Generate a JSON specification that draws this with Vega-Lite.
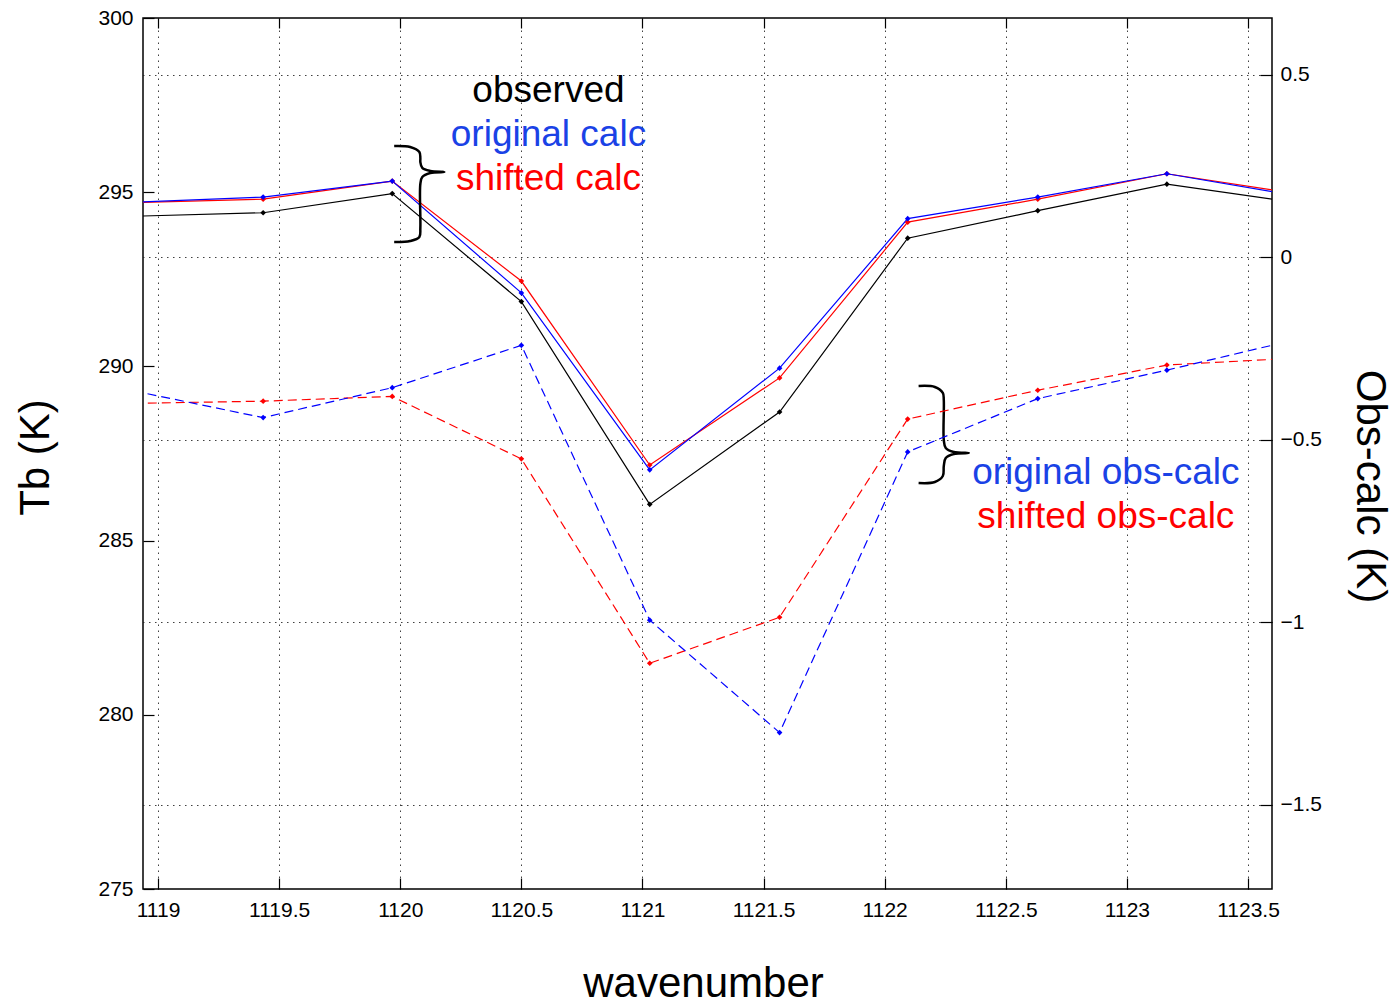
{
  "$schema": "https://vega.github.io/schema/vega-lite/v6.json",
  "width": 1129,
  "height": 871,
  "autosize": {"type": "none"},
  "padding": {"left": 143, "top": 18, "right": 121, "bottom": 114},
  "background": "white",
  "config": {
    "font": "Liberation Sans",
    "view": {"stroke": "#000", "strokeWidth": 1.5},
    "axis": {"domain": false, "labelFontSize": 21, "labelColor": "#000", "tickColor": "#000", "tickWidth": 1.2, "titleColor": "#000", "titleFontWeight": "normal", "titleFontSize": 42, "labelFont": "Liberation Sans", "titleFont": "Liberation Sans"}
  },
  "datasets": {
    "tb": [
      {"wn": 1118.90, "series": "observed", "Tb": 294.31},
      {"wn": 1119.434, "series": "observed", "Tb": 294.41},
      {"wn": 1119.967, "series": "observed", "Tb": 294.96},
      {"wn": 1120.50, "series": "observed", "Tb": 291.86},
      {"wn": 1121.03, "series": "observed", "Tb": 286.04},
      {"wn": 1121.566, "series": "observed", "Tb": 288.69},
      {"wn": 1122.095, "series": "observed", "Tb": 293.68},
      {"wn": 1122.632, "series": "observed", "Tb": 294.47},
      {"wn": 1123.165, "series": "observed", "Tb": 295.23},
      {"wn": 1123.70, "series": "observed", "Tb": 294.70},
      {"wn": 1118.90, "series": "shifted calc", "Tb": 294.70},
      {"wn": 1119.434, "series": "shifted calc", "Tb": 294.80},
      {"wn": 1119.967, "series": "shifted calc", "Tb": 295.32},
      {"wn": 1120.50, "series": "shifted calc", "Tb": 292.45},
      {"wn": 1121.03, "series": "shifted calc", "Tb": 287.17},
      {"wn": 1121.566, "series": "shifted calc", "Tb": 289.67},
      {"wn": 1122.095, "series": "shifted calc", "Tb": 294.14},
      {"wn": 1122.632, "series": "shifted calc", "Tb": 294.80},
      {"wn": 1123.165, "series": "shifted calc", "Tb": 295.53},
      {"wn": 1123.70, "series": "shifted calc", "Tb": 294.96},
      {"wn": 1118.90, "series": "original calc", "Tb": 294.71},
      {"wn": 1119.434, "series": "original calc", "Tb": 294.86},
      {"wn": 1119.967, "series": "original calc", "Tb": 295.32},
      {"wn": 1120.50, "series": "original calc", "Tb": 292.11},
      {"wn": 1121.03, "series": "original calc", "Tb": 287.03},
      {"wn": 1121.566, "series": "original calc", "Tb": 289.95},
      {"wn": 1122.095, "series": "original calc", "Tb": 294.24},
      {"wn": 1122.632, "series": "original calc", "Tb": 294.86},
      {"wn": 1123.165, "series": "original calc", "Tb": 295.53},
      {"wn": 1123.70, "series": "original calc", "Tb": 294.90}
    ],
    "oc": [
      {"wn": 1118.90, "series": "shifted obs-calc", "oc": -0.401},
      {"wn": 1119.434, "series": "shifted obs-calc", "oc": -0.395},
      {"wn": 1119.967, "series": "shifted obs-calc", "oc": -0.382},
      {"wn": 1120.50, "series": "shifted obs-calc", "oc": -0.553},
      {"wn": 1121.03, "series": "shifted obs-calc", "oc": -1.113},
      {"wn": 1121.566, "series": "shifted obs-calc", "oc": -0.987},
      {"wn": 1122.095, "series": "shifted obs-calc", "oc": -0.444},
      {"wn": 1122.632, "series": "shifted obs-calc", "oc": -0.365},
      {"wn": 1123.165, "series": "shifted obs-calc", "oc": -0.296},
      {"wn": 1123.70, "series": "shifted obs-calc", "oc": -0.277},
      {"wn": 1118.90, "series": "original obs-calc", "oc": -0.367},
      {"wn": 1119.434, "series": "original obs-calc", "oc": -0.440},
      {"wn": 1119.967, "series": "original obs-calc", "oc": -0.358},
      {"wn": 1120.50, "series": "original obs-calc", "oc": -0.242},
      {"wn": 1121.03, "series": "original obs-calc", "oc": -0.995},
      {"wn": 1121.566, "series": "original obs-calc", "oc": -1.303},
      {"wn": 1122.095, "series": "original obs-calc", "oc": -0.534},
      {"wn": 1122.632, "series": "original obs-calc", "oc": -0.388},
      {"wn": 1123.165, "series": "original obs-calc", "oc": -0.310},
      {"wn": 1123.70, "series": "original obs-calc", "oc": -0.226}
    ],
    "braces": [
      {"brace": "calc", "i": 1, "wn": 1119.975, "Tb": 296.326},
      {"brace": "calc", "i": 2, "wn": 1120.041, "Tb": 296.297},
      {"brace": "calc", "i": 3, "wn": 1120.079, "Tb": 296.154},
      {"brace": "calc", "i": 4, "wn": 1120.083, "Tb": 295.982},
      {"brace": "calc", "i": 5, "wn": 1120.083, "Tb": 295.867},
      {"brace": "calc", "i": 6, "wn": 1120.091, "Tb": 295.695},
      {"brace": "calc", "i": 7, "wn": 1120.124, "Tb": 295.609},
      {"brace": "calc", "i": 8, "wn": 1120.182, "Tb": 295.580},
      {"brace": "calc", "i": 9, "wn": 1120.124, "Tb": 295.551},
      {"brace": "calc", "i": 10, "wn": 1120.091, "Tb": 295.436},
      {"brace": "calc", "i": 11, "wn": 1120.083, "Tb": 295.235},
      {"brace": "calc", "i": 12, "wn": 1120.083, "Tb": 293.972},
      {"brace": "calc", "i": 13, "wn": 1120.079, "Tb": 293.714},
      {"brace": "calc", "i": 14, "wn": 1120.041, "Tb": 293.599},
      {"brace": "calc", "i": 15, "wn": 1119.975, "Tb": 293.571},
      {"brace": "oc", "i": 1, "wn": 1122.140, "Tb": 289.437},
      {"brace": "oc", "i": 2, "wn": 1122.207, "Tb": 289.409},
      {"brace": "oc", "i": 3, "wn": 1122.240, "Tb": 289.237},
      {"brace": "oc", "i": 4, "wn": 1122.244, "Tb": 289.036},
      {"brace": "oc", "i": 5, "wn": 1122.244, "Tb": 287.887},
      {"brace": "oc", "i": 6, "wn": 1122.252, "Tb": 287.658},
      {"brace": "oc", "i": 7, "wn": 1122.285, "Tb": 287.543},
      {"brace": "oc", "i": 8, "wn": 1122.347, "Tb": 287.514},
      {"brace": "oc", "i": 9, "wn": 1122.285, "Tb": 287.486},
      {"brace": "oc", "i": 10, "wn": 1122.252, "Tb": 287.371},
      {"brace": "oc", "i": 11, "wn": 1122.244, "Tb": 287.141},
      {"brace": "oc", "i": 12, "wn": 1122.240, "Tb": 286.854},
      {"brace": "oc", "i": 13, "wn": 1122.207, "Tb": 286.682},
      {"brace": "oc", "i": 14, "wn": 1122.140, "Tb": 286.653}
    ],
    "notes": [
      {"label": "observed", "grp": "k", "wn": 1120.612, "Tb": 297.589},
      {"label": "original calc", "grp": "b", "wn": 1120.612, "Tb": 296.326},
      {"label": "shifted calc", "grp": "r", "wn": 1120.612, "Tb": 295.063},
      {"label": "original obs-calc", "grp": "b", "wn": 1122.913, "Tb": 286.625},
      {"label": "shifted obs-calc", "grp": "r", "wn": 1122.913, "Tb": 285.362}
    ]
  },
  "layer": [
    {
      "data": {"name": "tb"},
      "mark": {"type": "line", "strokeWidth": 1.2, "clip": true},
      "encoding": {
        "x": {"field": "wn", "type": "quantitative", "scale": {"domain": [1118.938, 1123.599], "nice": false, "zero": false},
          "axis": {"orient": "bottom", "values": [1119, 1119.5, 1120, 1120.5, 1121, 1121.5, 1122, 1122.5, 1123, 1123.5], "format": "~f", "tickSize": -11, "labelPadding": 21, "grid": true, "gridDash": [1.5, 4.5], "gridColor": "#000", "gridOpacity": 0.75, "title": "wavenumber", "titleX": 560, "titleY": 107, "titleAlign": "center", "titleBaseline": "alphabetic"}},
        "y": {"field": "Tb", "type": "quantitative", "scale": {"domain": [275, 300], "nice": false, "zero": false},
          "axis": {"orient": "left", "values": [275, 280, 285, 290, 295, 300], "format": "~f", "tickSize": -11, "labelPadding": 21, "grid": false, "title": "Tb (K)", "titleAngle": -90, "titleX": -95, "titleY": 439, "titleAlign": "center", "titleBaseline": "alphabetic"}},
        "color": {"field": "series", "type": "nominal", "scale": {"domain": ["observed", "original calc", "shifted calc"], "range": ["#000000", "#0000ff", "#ff0000"]}, "legend": null}
      }
    },
    {
      "data": {"name": "tb"},
      "mark": {"type": "point", "shape": "diamond", "filled": true, "size": 32, "opacity": 1, "clip": true},
      "encoding": {
        "x": {"field": "wn", "type": "quantitative", "scale": {"domain": [1118.938, 1123.599], "nice": false, "zero": false}, "axis": null},
        "y": {"field": "Tb", "type": "quantitative", "scale": {"domain": [275, 300], "nice": false, "zero": false}, "axis": null},
        "color": {"field": "series", "type": "nominal", "scale": {"domain": ["observed", "original calc", "shifted calc"], "range": ["#000000", "#0000ff", "#ff0000"]}, "legend": null}
      }
    },
    {
      "data": {"name": "braces"},
      "mark": {"type": "line", "interpolate": "catmull-rom", "strokeWidth": 2.5, "color": "#000"},
      "encoding": {
        "x": {"field": "wn", "type": "quantitative", "scale": {"domain": [1118.938, 1123.599], "nice": false, "zero": false}, "axis": null},
        "y": {"field": "Tb", "type": "quantitative", "scale": {"domain": [275, 300], "nice": false, "zero": false}, "axis": null},
        "detail": {"field": "brace", "type": "nominal"},
        "order": {"field": "i", "type": "quantitative"}
      }
    },
    {
      "data": {"name": "notes"},
      "transform": [{"filter": "datum.grp == 'k'"}],
      "mark": {"type": "text", "fontSize": 37, "align": "center", "baseline": "alphabetic", "color": "#000000", "font": "Liberation Sans"},
      "encoding": {
        "x": {"field": "wn", "type": "quantitative", "scale": {"domain": [1118.938, 1123.599], "nice": false, "zero": false},
          "axis": {"orient": "top", "values": [1119, 1119.5, 1120, 1120.5, 1121, 1121.5, 1122, 1122.5, 1123, 1123.5], "labels": false, "tickSize": -10, "grid": false, "title": null}},
        "y": {"field": "Tb", "type": "quantitative", "scale": {"domain": [275, 300], "nice": false, "zero": false}, "axis": null},
        "text": {"field": "label"}
      }
    },
    {
      "data": {"name": "notes"},
      "transform": [{"filter": "datum.grp == 'b'"}],
      "mark": {"type": "text", "fontSize": 37, "align": "center", "baseline": "alphabetic", "color": "#1a42e6", "font": "Liberation Sans"},
      "encoding": {
        "x": {"field": "wn", "type": "quantitative", "scale": {"domain": [1118.938, 1123.599], "nice": false, "zero": false}, "axis": null},
        "y": {"field": "Tb", "type": "quantitative", "scale": {"domain": [275, 300], "nice": false, "zero": false}, "axis": null},
        "text": {"field": "label"}
      }
    },
    {
      "data": {"name": "notes"},
      "transform": [{"filter": "datum.grp == 'r'"}],
      "mark": {"type": "text", "fontSize": 37, "align": "center", "baseline": "alphabetic", "color": "#ff0000", "font": "Liberation Sans"},
      "encoding": {
        "x": {"field": "wn", "type": "quantitative", "scale": {"domain": [1118.938, 1123.599], "nice": false, "zero": false}, "axis": null},
        "y": {"field": "Tb", "type": "quantitative", "scale": {"domain": [275, 300], "nice": false, "zero": false}, "axis": null},
        "text": {"field": "label"}
      }
    },
    {
      "data": {"name": "oc"},
      "mark": {"type": "line", "strokeWidth": 1.2, "strokeDash": [9, 5], "clip": true},
      "encoding": {
        "x": {"field": "wn", "type": "quantitative", "scale": {"domain": [1118.938, 1123.599], "nice": false, "zero": false}, "axis": null},
        "y": {"field": "oc", "type": "quantitative", "scale": {"domain": [-1.7315, 0.6548], "nice": false, "zero": false},
          "axis": {"orient": "right", "values": [-1.5, -1, -0.5, 0, 0.5], "format": "~f", "tickSize": -12, "labelPadding": 20, "grid": true, "gridDash": [1.5, 4.5], "gridColor": "#000", "gridOpacity": 0.75, "title": "Obs-calc (K)", "titleAngle": 90, "titleX": 84, "titleY": 468, "titleAlign": "center", "titleBaseline": "alphabetic"}},
        "color": {"field": "series", "type": "nominal", "scale": {"domain": ["original obs-calc", "shifted obs-calc"], "range": ["#0000ff", "#ff0000"]}, "legend": null}
      }
    },
    {
      "data": {"name": "oc"},
      "mark": {"type": "point", "shape": "diamond", "filled": true, "size": 32, "opacity": 1, "clip": true},
      "encoding": {
        "x": {"field": "wn", "type": "quantitative", "scale": {"domain": [1118.938, 1123.599], "nice": false, "zero": false}, "axis": null},
        "y": {"field": "oc", "type": "quantitative", "scale": {"domain": [-1.7315, 0.6548], "nice": false, "zero": false}, "axis": null},
        "color": {"field": "series", "type": "nominal", "scale": {"domain": ["original obs-calc", "shifted obs-calc"], "range": ["#0000ff", "#ff0000"]}, "legend": null}
      }
    }
  ],
  "resolve": {"scale": {"y": "independent", "color": "independent"}, "axis": {"y": "independent"}}
}
